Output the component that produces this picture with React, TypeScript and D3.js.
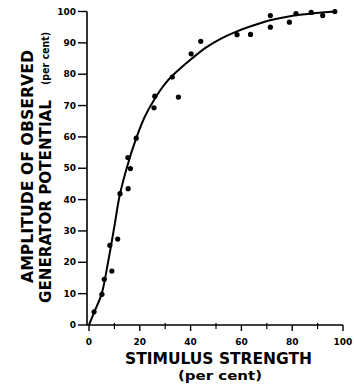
import React from "react";
import * as d3 from "d3";

const pointX = [2, 5.1, 6, 9, 8.2, 11.3, 12.2, 15.4, 16.3, 15.3, 18.6, 25.6, 25.9, 35.2, 32.8, 40.2, 44, 58.3, 63.6, 71.4, 71.4, 78.9, 81.5, 87.5, 92, 96.8];
const pointY = [4.2, 9.8, 14.6, 17.2, 25.4, 27.4, 41.9, 43.5, 49.9, 53.4, 59.6, 69.3, 73, 72.7, 79.1, 86.5, 90.5, 92.6, 92.7, 95, 98.7, 96.6, 99.3, 99.7, 98.7, 100];

const curveX = [0, 2, 5, 7.5, 10, 12, 15, 18.6, 22, 25.9, 30, 33.2, 40.5, 46, 51.8, 58, 63.7, 71.7, 79.7, 88, 97];
const curveY = [0, 4, 10, 20, 31.5, 41, 50.5, 59.6, 66.5, 72.2, 77, 79.8, 85, 88.5, 91.3, 93.6, 95.3, 97.3, 98.6, 99.4, 100];

const xTicks = [0, 20, 40, 60, 80, 100];
const xMinor = [10, 30, 50, 70, 90];
const yTicks = [0, 10, 20, 30, 40, 50, 60, 70, 80, 90, 100];

const xTitle = "STIMULUS STRENGTH";
const xUnit = "(per cent)";
const yTitle1 = "AMPLITUDE OF OBSERVED";
const yTitle2 = "GENERATOR POTENTIAL";
const yUnit = "(per cent)";

export default function App() {
  const W = 354, H = 388;
  const x = d3.scaleLinear().domain([0, 100]).range([89, 343]);
  const y = d3.scaleLinear().domain([0, 100]).range([325, 11.5]);
  const axisX = 87;
  const font = "'DejaVu Sans', sans-serif";
  const line = d3
    .line<number>()
    .x((_, i) => x(curveX[i]))
    .y((d) => y(d))
    .curve(d3.curveCatmullRom.alpha(0.5));

  return (
    <svg
      width={W}
      height={H}
      style={{ position: "absolute", left: 0, top: 0, background: "#fff" }}
      fontFamily={font}
      fontWeight="bold"
    >
      <rect width={W} height={H} fill="#fff" />
      <line x1={axisX} x2={axisX} y1={y(0)} y2={y(100)} stroke="#000" strokeWidth={1.6} />
      <line x1={axisX} x2={x(100)} y1={y(0)} y2={y(0)} stroke="#000" strokeWidth={1.6} />
      {yTicks.map((t) => (
        <g key={"y" + t}>
          <line x1={axisX - 9} x2={axisX} y1={y(t)} y2={y(t)} stroke="#000" strokeWidth={1.4} />
          <text x={axisX - 11} y={y(t)} dy="0.35em" textAnchor="end" fontSize={9}>
            {t}
          </text>
        </g>
      ))}
      {xTicks.map((t) => (
        <g key={"x" + t}>
          <line x1={x(t)} x2={x(t)} y1={y(0)} y2={y(0) + 6} stroke="#000" strokeWidth={1.4} />
          <text x={x(t)} y={345} textAnchor="middle" fontSize={9}>
            {t}
          </text>
        </g>
      ))}
      {xMinor.map((t) => (
        <line key={"m" + t} x1={x(t)} x2={x(t)} y1={y(0) - 2} y2={y(0) + 4} stroke="#000" strokeWidth={1.2} />
      ))}
      <path d={line(curveY) || ""} fill="none" stroke="#000" strokeWidth={2} />
      {pointX.map((px, i) => (
        <circle key={"p" + i} cx={x(px)} cy={y(pointY[i])} r={2.6} fill="#000" />
      ))}
      <text x={125} y={364} fontSize={15} textLength={187} lengthAdjust="spacingAndGlyphs">
        {xTitle}
      </text>
      <text x={178} y={380} fontSize={12} textLength={84} lengthAdjust="spacingAndGlyphs">
        {xUnit}
      </text>
      <text
        transform="translate(33,283) rotate(-90)"
        fontSize={15}
        textLength={233}
        lengthAdjust="spacingAndGlyphs"
      >
        {yTitle1}
      </text>
      <text
        transform="translate(51,303) rotate(-90)"
        fontSize={15}
        textLength={203}
        lengthAdjust="spacingAndGlyphs"
      >
        {yTitle2}
      </text>
      <text
        transform="translate(49,85) rotate(-90)"
        fontSize={10}
        textLength={53}
        lengthAdjust="spacingAndGlyphs"
      >
        {yUnit}
      </text>
    </svg>
  );
}
